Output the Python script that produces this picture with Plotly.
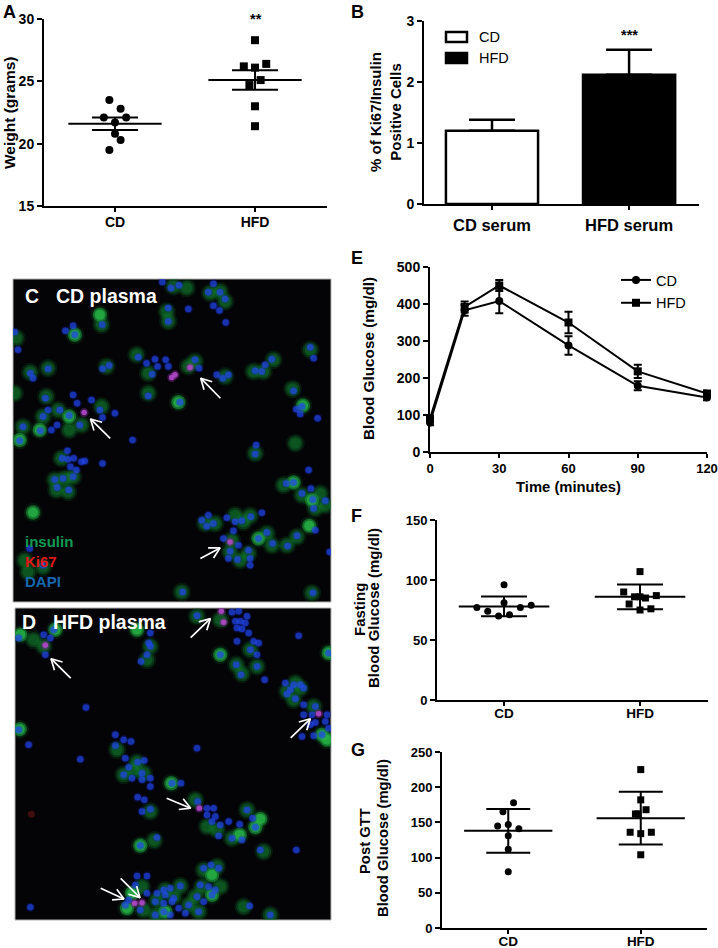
import math
import plotly.graph_objects as go

W, H = 718, 948
FONT = "Liberation Sans"

# Panel A
a_groups = ["CD", "HFD"]
a_cd_off = [-0.04, 0.04, -0.08, 0.08, 0.0, 0.0, 0.04, -0.04]
a_cd = [23.5, 22.8, 22.1, 22.1, 21.7, 20.8, 20.3, 19.5]
a_hfd_off = [0.0, -0.08, 0.0, 0.08, 0.04, -0.04, 0.0, 0.0]
a_hfd = [28.3, 26.2, 26.1, 26.4, 25.1, 24.7, 23.0, 21.4]
a_mean = [21.6, 25.1]
a_err = [0.5, 0.78]

# Panel B
b_groups = ["CD serum", "HFD serum"]
b_vals = [1.2, 2.12]
b_err = [0.18, 0.41]

# Panel E
e_t = [0, 15, 30, 60, 90, 120]
e_cd = [80, 383, 408, 288, 179, 147]
e_cd_err = [8, 15, 33, 25, 12, 7]
e_hfd = [90, 392, 450, 350, 218, 158]
e_hfd_err = [8, 15, 15, 29, 18, 8]

# Panel F
f_cd_off = [0.0, 0.0, -0.2, 0.12, 0.2, -0.12, 0.04, -0.04]
f_cd = [96, 81, 77, 77, 79, 74, 71, 70]
f_hfd_off = [0.0, -0.12, 0.12, -0.04, 0.04, 0.0, -0.08, 0.0, 0.08]
f_hfd = [107, 90, 87, 86, 85, 86, 80, 75, 76]
f_mean = [78, 86]
f_err = [8.2, 10.3]

# Panel G
g_cd_off = [0.04, -0.04, -0.08, 0.0, 0.08, 0.0, 0.0, 0.0]
g_cd = [178, 165, 145, 147, 141, 131, 112, 80]
g_hfd_off = [0.0, 0.0, 0.04, -0.04, -0.02, -0.08, 0.0, 0.08, 0.0]
g_hfd = [225, 182, 168, 162, 162, 136, 134, 136, 104]
g_mean = [138, 156]
g_err = [31, 37.5]

# Panel C micrograph (3x picture pixels)
c_bright = [(300,135),(225,195),(100,727),(535,397),(908,407),(927,767),(880,637),(935,690),(775,805),(120,480),(60,510),(208,440)]
c_dim = [(660,65),(585,275),(820,270),(750,737),(520,50),(560,55),(630,70),(500,125),(505,155),(675,95),(410,255),(445,310),(320,290),(92,307),(145,295),(50,205),(45,370),(445,370),(140,380),(130,440),(175,420),(305,410),(245,465),(208,480),(70,470),(185,565),(165,630),(195,625),(220,620),(170,660),(205,665),(565,290),(675,320),(760,305),(790,305),(877,357),(885,520),(765,550),(850,645),(905,675),(960,670),(975,705),(945,715),(615,760),(645,760),(705,735),(730,755),(800,790),(815,825),(860,825),(890,800),(695,810),(690,845),(720,870),(745,850),(75,870),(130,890),(85,905),(545,965),(935,968),(930,240),(305,165)]
c_blue = [(487,37),(513,55),(537,47),(640,42),(625,68),(660,68),(675,88),(640,108),(658,122),(565,118),(505,115),(505,155),(677,158),(307,165),(220,168),(197,183),(225,195),(45,187),(55,240),(415,262),(440,280),(465,268),(473,290),(497,270),(505,290),(457,313),(308,297),(328,287),(145,297),(92,310),(100,325),(585,270),(597,295),(650,315),(668,325),(685,315),(765,303),(795,285),(785,305),(815,268),(930,232),(940,265),(445,378),(540,397),(880,363),(905,410),(888,418),(900,432),(952,445),(220,375),(275,390),(232,400),(137,385),(145,420),(130,440),(180,420),(208,437),(300,420),(308,443),(345,430),(240,465),(172,465),(155,480),(122,482),(70,470),(60,512),(398,510),(768,525),(765,552),(203,542),(187,565),(205,568),(222,565),(245,575),(255,573),(212,590),(230,600),(308,580),(220,620),(190,625),(165,628),(172,652),(207,660),(925,600),(858,640),(880,637),(932,655),(905,670),(938,688),(975,692),(940,715),(625,735),(605,750),(640,760),(620,768),(680,743),(705,755),(725,752),(752,740),(785,728),(700,782),(800,787),(775,805),(890,797),(945,780),(670,805),(715,825),(817,820),(862,827),(690,843),(745,840),(685,865),(712,868),(750,865),(750,885),(90,835),(130,885),(548,965),(938,967),(988,845)]
c_pink = [(253,428),(570,293),(515,323),(525,315),(690,815)]
c_arrows = [(661,385,602,325),(331,505,272,447),(601,865,660,833)]

# Panel D micrograph
d_bright = [(165,90),(60,105),(410,90),(985,160),(660,165),(965,405),(980,420),(58,388),(513,550),(420,737),(718,705),(765,682),(780,657),(635,825),(635,885),(380,925),(395,880),(495,935)]
d_dim = [(450,140),(750,150),(708,195),(770,200),(725,222),(860,275),(900,265),(410,487),(430,520),(370,525),(450,635),(740,630),(540,858),(495,870),(462,722),(695,715),(650,800),(605,860),(660,860),(468,945),(425,860),(565,915),(595,935),(730,920),(810,945),(790,755),(590,50),(660,60),(585,600),(940,320),(885,250),(880,300),(100,120),(130,140),(440,180),(350,450),(400,510),(620,680),(650,690),(520,890),(470,900),(430,930),(610,810),(585,890)]
d_blue = [(135,165),(130,105),(150,115),(55,115),(160,90),(590,48),(695,38),(715,35),(740,50),(705,65),(720,65),(735,70),(710,85),(725,88),(745,100),(710,125),(760,125),(775,130),(750,150),(770,165),(660,165),(708,195),(770,200),(722,225),(793,240),(895,108),(985,160),(450,100),(445,130),(450,140),(440,165),(422,185),(257,323),(855,250),(880,255),(900,255),(870,270),(910,265),(860,283),(885,297),(910,315),(945,320),(910,345),(935,345),(980,345),(945,368),(975,365),(930,375),(985,385),(905,410),(940,408),(965,405),(55,390),(85,435),(345,405),(370,420),(392,425),(345,437),(240,478),(375,475),(385,502),(412,487),(432,482),(370,525),(395,535),(425,540),(425,520),(450,535),(450,560),(515,550),(542,550),(412,592),(432,600),(425,635),(450,628),(590,445),(592,605),(620,625),(640,625),(620,645),(645,650),(635,665),(660,675),(685,665),(655,708),(695,715),(725,720),(718,673),(740,630),(757,655),(765,682),(470,713),(420,737),(780,750),(888,750),(632,795),(610,805),(655,805),(600,855),(625,860),(645,870),(635,885),(590,890),(610,905),(565,915),(595,935),(555,940),(540,858),(510,865),(490,870),(470,880),(495,885),(520,895),(465,905),(490,910),(515,905),(535,925),(490,935),(510,945),(465,945),(440,880),(410,828),(440,828),(405,855),(375,915),(420,930),(385,900),(748,918),(810,945),(90,922)]
d_pink = [(135,137),(663,35),(670,68),(955,342),(597,625),(403,910),(425,908)]
d_red = [(93,643)]
d_arrows = [(211,235,152,177),(571,114,630,57),(871,414,930,357),(499,595,571,625),(301,865,371,897),(361,835,419,893)]

AX = dict(
    A=dict(x=(44, 327), y=(19, 206), xr=(0.493, 2.514), yr=(15, 30), xs=14, ys=14, st=-2),
    B=dict(x=(424, 699), y=(21, 204), xr=(0.504, 2.51), yr=(0, 3), xs=16.5, ys=14, st=1),
    C=dict(x=(13, 331), y=(279, 602), xr=(40, 992), yr=(995, 28), xs=14, ys=14, st=0),
    D=dict(x=(15, 331), y=(608, 920), xr=(44, 992), yr=(960, 25), xs=14, ys=14, st=0),
    E=dict(x=(430, 707), y=(267, 452), xr=(0, 120), yr=(0, 500), xs=13, ys=14, st=-1),
    F=dict(x=(437, 708), y=(520, 700), xr=(0.507, 2.5), yr=(0, 150), xs=13.5, ys=13, st=-4),
    G=dict(x=(442, 707), y=(752, 928), xr=(0.5, 2.5), yr=(0, 250), xs=13.5, ys=13, st=-4),
)
NAMES = {k: (i + 1) for i, k in enumerate(AX)}

fig = go.Figure()
layout = dict(
    template="none", width=W, height=H, margin=dict(l=0, r=0, t=0, b=0, pad=0),
    paper_bgcolor="white", plot_bgcolor="white",
    font=dict(family=FONT, color="black", size=14),
    showlegend=True, hovermode=False,
)


def axkey(letter, axis):
    n = NAMES[letter]
    return f"{axis}axis" + ("" if n == 1 else str(n))


def ref(letter):
    n = NAMES[letter]
    s = "" if n == 1 else str(n)
    return "x" + s, "y" + s


for k, v in AX.items():
    n = NAMES[k]
    s = "" if n == 1 else str(n)
    layout[axkey(k, "x")] = dict(
        domain=[v["x"][0] / W, v["x"][1] / W], range=list(v["xr"]), anchor="y" + s, automargin=False,
        showgrid=False, zeroline=False, showline=True, linecolor="black", linewidth=2,
        ticks="outside", ticklen=4, tickwidth=2, tickcolor="black", ticklabelstandoff=v["st"],
        tickfont=dict(size=v["xs"], family=FONT, weight="bold"))
    layout[axkey(k, "y")] = dict(
        domain=[1 - v["y"][1] / H, 1 - v["y"][0] / H], range=list(v["yr"]), anchor="x" + s, automargin=False,
        showgrid=False, zeroline=False, showline=True, linecolor="black", linewidth=2,
        ticks="outside", ticklen=5, tickwidth=2, tickcolor="black",
        tickfont=dict(size=v["ys"], family=FONT, weight="bold"))

for k in "CD":
    for a in "xy":
        layout[axkey(k, a)].update(visible=False)

annotations = []
shapes = []


def note(px, py, text, size=14, bold=True, color="black", xanchor="center", angle=0):
    annotations.append(dict(
        xref="paper", yref="paper", x=px / W, y=1 - py / H, text=text, showarrow=False,
        xanchor=xanchor, yanchor="middle", textangle=angle,
        font=dict(size=size, color=color, family=FONT, weight="bold" if bold else "normal")))


def scatter_panel(letter, cats, o1, v1, o2, v2, mean, err, sem_half, mean_half, msize):
    xr, yr = ref(letter)
    for cx, off, vals, sym in ((1, o1, v1, "circle"), (2, o2, v2, "square")):
        fig.add_trace(go.Scatter(
            x=[cx + d for d in off], y=vals, mode="markers", xaxis=xr, yaxis=yr, showlegend=False,
            cliponaxis=False, marker=dict(symbol=sym, size=msize, color="black", line=dict(width=0))))
    fig.add_trace(go.Scatter(
        x=[1, 2], y=mean, mode="markers", xaxis=xr, yaxis=yr, showlegend=False, cliponaxis=False,
        marker=dict(size=1, color="black"),
        error_y=dict(type="data", array=err, width=sem_half, thickness=2, color="black"),
        error_x=dict(type="data", array=[mean_half, mean_half], width=0, thickness=2, color="black")))
    layout[axkey(letter, "x")].update(tickmode="array", tickvals=[1, 2], ticktext=cats)


scatter_panel("A", a_groups, a_cd_off, a_cd, a_hfd_off, a_hfd, a_mean, a_err, 23, 0.333, 8)
layout[axkey("A", "y")].update(tickmode="array", tickvals=[15, 20, 25, 30])
scatter_panel("F", a_groups, f_cd_off, f_cd, f_hfd_off, f_hfd, f_mean, f_err, 23, 0.333, 7)
layout[axkey("F", "y")].update(tickmode="array", tickvals=[0, 50, 100, 150])
scatter_panel("G", a_groups, g_cd_off, g_cd, g_hfd_off, g_hfd, g_mean, g_err, 22, 0.333, 7)
layout[axkey("G", "y")].update(tickmode="array", tickvals=[0, 50, 100, 150, 200, 250])

# Bars
xr, yr = ref("B")
fig.add_trace(go.Bar(
    x=[1, 2], y=b_vals, width=0.672, xaxis=xr, yaxis=yr, showlegend=False,
    marker=dict(color=["white", "black"], line=dict(color="black", width=2.5)),
    error_y=dict(type="data", symmetric=False, array=b_err, arrayminus=[0, 0], width=23,
                 thickness=2.5, color="black")))
layout[axkey("B", "x")].update(tickmode="array", tickvals=[1, 2], ticktext=b_groups)
layout[axkey("B", "y")].update(tickmode="array", tickvals=[0, 1, 2, 3])
for y0, y1, col in ((32, 42, "white"), (53, 63, "black")):
    shapes.append(dict(type="rect", xref="paper", yref="paper", x0=446 / W, x1=467 / W,
                       y0=1 - y1 / H, y1=1 - y0 / H, fillcolor=col,
                       line=dict(color="black", width=2.5)))
note(477, 37, "CD", 14.5, bold=False, xanchor="left")
note(477, 58, "HFD", 14.5, bold=False, xanchor="left")

# Time course
xr, yr = ref("E")
for name, vals, errs, sym in (("CD", e_cd, e_cd_err, "circle"), ("HFD", e_hfd, e_hfd_err, "square")):
    fig.add_trace(go.Scatter(
        x=e_t, y=vals, name=name, mode="lines+markers", xaxis=xr, yaxis=yr, cliponaxis=False,
        legendgroup=name,
        line=dict(color="black", width=2),
        marker=dict(symbol=sym, size=8, color="black"),
        error_y=dict(type="data", array=errs, width=4, thickness=2, color="black")))
layout[axkey("E", "x")].update(tickmode="array", tickvals=[0, 30, 60, 90, 120])
layout[axkey("E", "y")].update(tickmode="array", tickvals=[0, 100, 200, 300, 400, 500])
layout["legend"] = dict(
    x=616 / W, y=1 - 264 / H, xanchor="left", yanchor="top", bgcolor="rgba(0,0,0,0)",
    font=dict(size=14.5, family=FONT), itemwidth=30, traceorder="grouped", tracegroupgap=1,
    itemclick=False, itemdoubleclick=False)


# Micrographs
def cells(letter, bright, dim, blue, pink, red=()):
    xr, yr = ref(letter)
    shapes.append(dict(type="rect", xref=f"{xr} domain", yref=f"{yr} domain", x0=0, x1=1, y0=0, y1=1,
                       fillcolor="#040407", line=dict(color="#b0b0b0", width=1), layer="below"))

    def layer(pts, size, color, opacity):
        fig.add_trace(go.Scatter(
            x=[p[0] for p in pts], y=[p[1] for p in pts], mode="markers", xaxis=xr, yaxis=yr,
            showlegend=False, hoverinfo="skip",
            marker=dict(size=size, color=color, opacity=opacity, line=dict(width=0))))

    both = list(dim) + list(bright)
    layer(both, 19, "#0c5a22", 0.22)
    layer(both, 15, "#106e2a", 0.40)
    layer(both, 11, "#158a30", 0.35)
    layer(bright, 14, "#1f9c3c", 0.50)
    layer(bright, 10, "#2cc24c", 0.60)
    layer(blue, 9, "#1428c8", 0.25)
    layer(blue, 6.5, "#2248f0", 0.65)
    layer(pink, 9, "#8a2ca0", 0.40)
    layer(pink, 5.5, "#b048c8", 0.90)
    if red:
        layer(list(red), 7, "#5a1010", 0.7)


cells("C", c_bright, c_dim, c_blue, c_pink)
cells("D", d_bright, d_dim, d_blue, d_pink, d_red)


def arrow_path(arrows):
    xs, ys = [], []
    for x0, y0, x1, y1 in arrows:
        ang = math.atan2(y0 - y1, x0 - x1)
        xs += [x0, x1, None]
        ys += [y0, y1, None]
        a, b = ang + 0.5, ang - 0.5
        xs += [x1 + 36 * math.cos(a), x1, x1 + 36 * math.cos(b), None]
        ys += [y1 + 36 * math.sin(a), y1, y1 + 36 * math.sin(b), None]
    return xs, ys


for letter, arrows in (("C", c_arrows), ("D", d_arrows)):
    xr, yr = ref(letter)
    xs, ys = arrow_path(arrows)
    fig.add_trace(go.Scatter(x=xs, y=ys, mode="lines", xaxis=xr, yaxis=yr, showlegend=False,
                             line=dict(color="white", width=1.7), hoverinfo="skip"))

note(23, 296, "C", 19.5, color="white", xanchor="left")
note(54, 296, "CD plasma", 19.5, color="white", xanchor="left")
note(20, 622, "D", 19.5, color="white", xanchor="left")
note(51, 622, "HFD plasma", 19.5, color="white", xanchor="left")
note(23, 541, "insulin", 15, color="#0f9a50", xanchor="left")
note(23, 561, "Ki67", 15, color="#e01818", xanchor="left")
note(23, 581, "DAPI", 15, color="#1668b0", xanchor="left")

# Panel letters and marks
note(1, 12, "A", 18, xanchor="left")
note(349, 12, "B", 18, xanchor="left")
note(349, 258, "E", 18, xanchor="left")
note(349, 516, "F", 18, xanchor="left")
note(349, 750, "G", 18, xanchor="left")
note(256, 19, "**", 14.5)
note(629, 35, "***", 14.5)

# Axis titles
note(9, 113, "Weight (grams)", 15.5, angle=-90)
note(385, 112, "% of Ki67/Insulin<br>Positive Cells", 15, angle=-90)
note(368, 359, "Blood Glucose (mg/dl)", 15.3, angle=-90)
note(568, 487, "Time (minutes)", 14.8)
note(359, 610, "Fasting", 15, angle=-90)
note(373, 608, "Blood Glucose (mg/dl)", 15, angle=-90)
note(365, 841, "Post GTT", 14.8, angle=-90)
note(383, 838, "Blood Glucose (mg/dl)", 14.8, angle=-90)

layout["annotations"] = annotations
layout["shapes"] = shapes
fig.update_layout(**layout)
css = ("var s=document.createElement('style');"
       "s.textContent='html,body{margin:0!important;padding:0!important;overflow:hidden}';"
       "document.head.appendChild(s);")
fig.write_html("out.html", post_script=css, config={"displayModeBar": False})
